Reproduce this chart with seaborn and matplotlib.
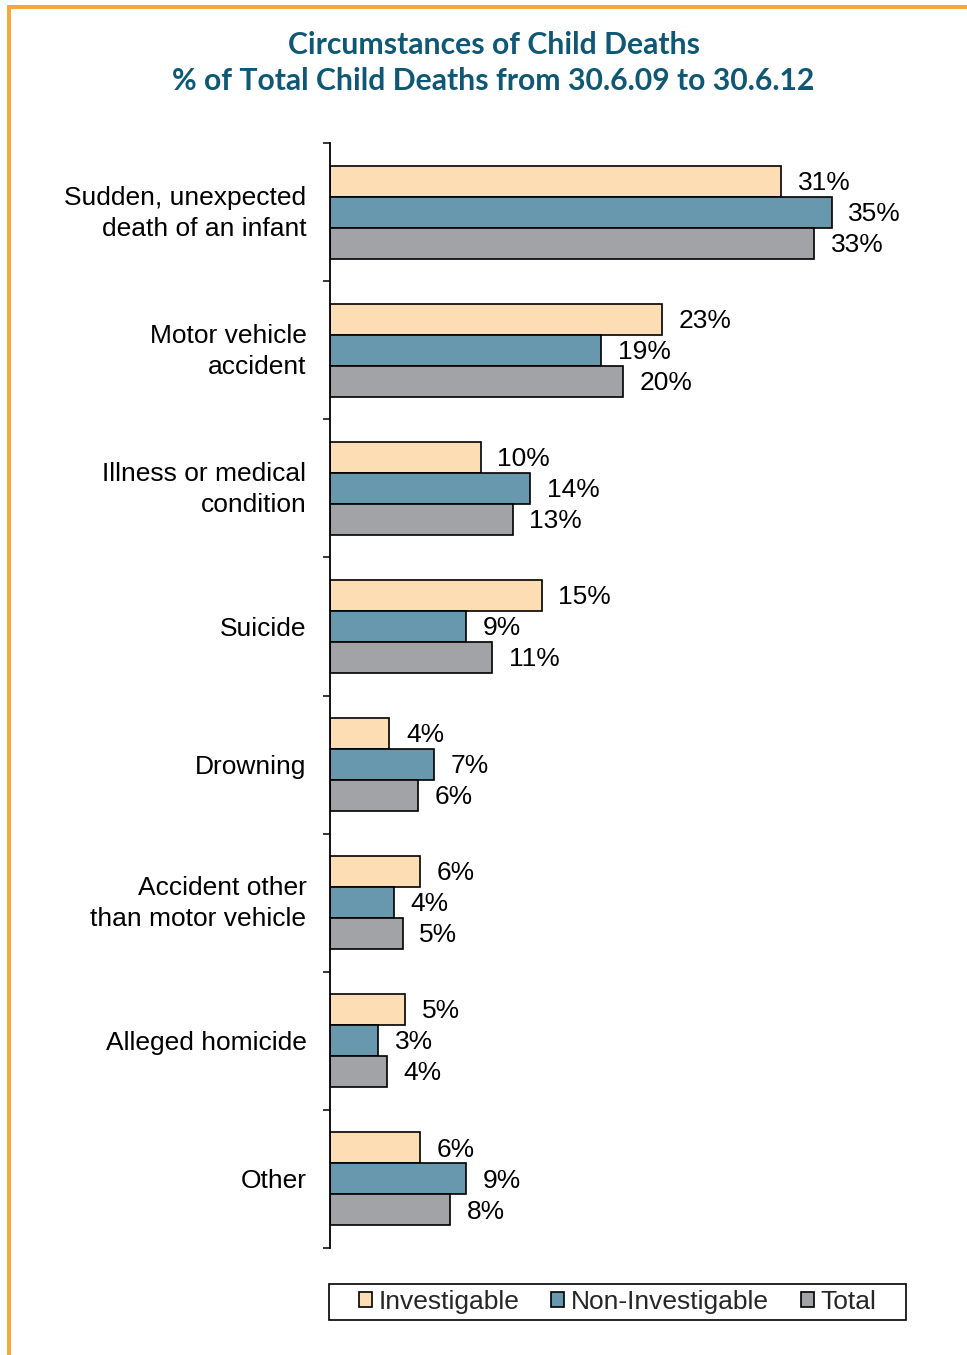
import numpy as np
import pandas as pd
import matplotlib
matplotlib.use("Agg")
import matplotlib.pyplot as plt
import matplotlib.transforms as mtransforms
import seaborn as sns
from matplotlib.patches import Rectangle, Patch

# ---------------- data ----------------
categories = [
    "Sudden, unexpected\ndeath of an infant",
    "Motor vehicle\naccident",
    "Illness or medical\ncondition",
    "Suicide",
    "Drowning",
    "Accident other\nthan motor vehicle",
    "Alleged homicide",
    "Other",
]
series_names = ["Investigable", "Non-Investigable", "Total"]
investigable = [31.1, 22.9, 10.4, 14.6, 4.1, 6.2, 5.2, 6.2]
non_investigable = [34.6, 18.7, 13.8, 9.4, 7.2, 4.4, 3.3, 9.4]
total = [33.4, 20.2, 12.6, 11.2, 6.1, 5.0, 3.9, 8.3]
colors = ["#FDDEB4", "#6798AE", "#A2A3A7"]

title_lines = ["Circumstances of Child Deaths",
               "% of Total Child Deaths from 30.6.09 to 30.6.12"]

# ---------------- style ----------------
sns.set_style("white")
plt.rcParams["font.family"] = ["Liberation Sans", "DejaVu Sans"]

W, H = 967, 1355
fig = plt.figure(figsize=(W / 100, H / 100), dpi=100)
fig.patch.set_facecolor("white")

ax_left, ax_right = 330 / W, 910 / W
ax_top, ax_bottom = 1 - 143 / H, 1 - 1248 / H
ax = fig.add_axes([ax_left, ax_bottom, ax_right - ax_left, ax_top - ax_bottom])

df = pd.DataFrame({
    "category": categories * 3,
    "series": np.repeat(series_names, len(categories)),
    "value": investigable + non_investigable + total,
})

sns.barplot(data=df, y="category", x="value", hue="series", order=categories,
            hue_order=series_names, palette=colors, orient="h", width=0.673,
            saturation=1, edgecolor="black", linewidth=1.2, legend=False, ax=ax,
            errorbar=None)

ax.set_xlim(0, 40)
ax.set_ylim(len(categories) - 0.5, -0.5)
ax.set_xlabel("")
ax.set_ylabel("")
ax.set_xticks([])
for s in ["top", "right", "bottom"]:
    ax.spines[s].set_visible(False)
ax.spines["left"].set_color("black")
ax.spines["left"].set_linewidth(1.3)

ax.set_yticks(np.arange(-0.5, len(categories) + 0.5, 1.0), minor=True)
ax.tick_params(axis="y", which="major", length=0, pad=17, labelsize=19,
               labelcolor="black")
ax.tick_params(axis="y", which="minor", length=5, width=1.1, color="black",
               direction="out", left=True)
shift_up = mtransforms.ScaledTranslation(0, 5 / 100, fig.dpi_scale_trans)
for lab in ax.get_yticklabels():
    lab.set_horizontalalignment("right")
    lab.set_linespacing(1.37)
    if "\n" in lab.get_text():
        lab.set_transform(lab.get_transform() + shift_up)

vals = [investigable, non_investigable, total]
for cont, v in zip(ax.containers, vals):
    texts = ax.bar_label(cont, labels=[f"{x:.0f}%" for x in v], padding=12,
                         fontsize=19, color="black")
    for t in texts:
        t.xyann = (12, -1.2)

# ---------------- legend ----------------
handles = [Patch(facecolor=c, edgecolor="black", linewidth=1.2) for c in colors]
leg = fig.legend(handles=handles, labels=series_names, ncol=3, loc="center",
                 bbox_to_anchor=(617.5 / W, 1 - 1302 / H), frameon=False,
                 handlelength=0.5, handleheight=0.5, handletextpad=0.25,
                 columnspacing=1.2, borderpad=0.0, fontsize=19)

# ---------------- title ----------------
title_color = "#0E5876"
tfont = ["Lato", "DejaVu Sans"]
t1 = fig.text(493.5 / W, 1 - 45 / H, title_lines[0], ha="center", va="center",
              fontsize=20, fontweight="bold", color=title_color, family=tfont)
t2 = fig.text(493.5 / W, 1 - 81 / H, title_lines[1], ha="center", va="center",
              fontsize=20, fontweight="bold", color=title_color, family=tfont)

fig.canvas.draw()
r = fig.canvas.get_renderer()
w2 = t2.get_window_extent(r).width
fs = 20 * 643 / w2
t1.set_fontsize(fs)
t2.set_fontsize(fs)

# legend frame with wider side padding
bb = leg.get_window_extent(r)
x0, x1 = bb.x0 - 30, bb.x1 + 30
y0, y1 = bb.y0 - 6, bb.y1 + 6
fig.add_artist(Rectangle((x0 / W, y0 / H), (x1 - x0) / W, (y1 - y0) / H,
                         transform=fig.transFigure, facecolor="none",
                         edgecolor="black", linewidth=1.2, zorder=5))

# ---------------- orange border ----------------
orange = "#FBA63A"
fig.add_artist(Rectangle((7 / W, 1 - 9 / H), 1 - 7 / W, 4 / H,
                         transform=fig.transFigure, facecolor=orange,
                         edgecolor="none"))
fig.add_artist(Rectangle((7 / W, 0), 4 / W, 1 - 5 / H,
                         transform=fig.transFigure, facecolor=orange,
                         edgecolor="none"))

fig.savefig("out.png", dpi=100, facecolor="white")
